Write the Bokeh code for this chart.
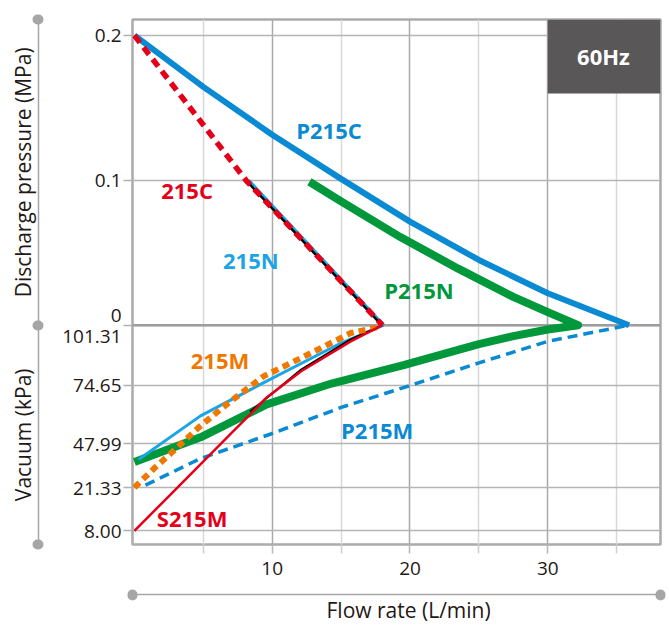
import numpy as np
from bokeh.plotting import figure
from bokeh.models import FixedTicker, Label, BoxAnnotation, Span, Range1d, LinearAxis
from bokeh.embed import file_html
from bokeh.resources import INLINE

# ---------------- axis definitions ----------------
X_TICKS = [10, 20, 30]
X_MINOR = [5, 15, 25, 35]
P_TICKS = [0.2, 0.1, 0.0]                      # discharge pressure, MPa
P_LABELS = ["0.2", "0.1", "0"]
VAC_TICKS = [101.31, 74.65, 47.99, 21.33, 8.00]  # vacuum, kPa (abs)
VAC_LABELS = ["101.31", "74.65", "47.99", "21.33", "8.00"]
VAC_POS = [0.0, -0.0413, -0.0820, -0.1121, -0.1420]  # axis position of vacuum ticks
X_TITLE = "Flow rate (L/min)"
P_TITLE = "Discharge pressure (MPa)"
V_TITLE = "Vacuum (kPa)"

# ---------------- data: discharge pressure side (L/min, MPa) ----------------
p215c_flow = [0, 5, 10, 15, 20, 25, 30, 35.9]
p215c_pres = [0.2, 0.1645, 0.1315, 0.101, 0.0715, 0.045, 0.022, 0.0]

c215_flow = [0, 8.1, 18.0]
c215_pres = [0.2, 0.1, 0.0]

n215_up_flow = [8.3, 18.1]
n215_up_pres = [0.1, 0.0]

blk_up_flow = [8.1, 17.95]
blk_up_pres = [0.1, 0.0]

p215n_up_flow = [12.7, 15.0, 19.3, 23.5, 27.5, 30.0, 32.2]
p215n_up_pres = [0.099, 0.0854, 0.0608, 0.039, 0.0195, 0.009, 0.0]

# ---------------- data: vacuum side (L/min, kPa) ----------------
p215n_lo_flow = [32.2, 30.0, 27.5, 25.0, 19.6, 14.3, 9.6, 4.8, 0]
p215n_lo_vac = [101.31, 99.4, 96.4, 92.9, 83.6, 75.3, 65.9, 51.0, 36.9]

p215m_flow = [0.8, 4.8, 9.9, 15.0, 19.9, 25.0, 30.0, 35.9]
p215m_vac = [22.8, 39.1, 52.5, 64.5, 74.2, 84.5, 94.1, 101.31]

n215_lo_flow = [0.3, 4.8, 9.6, 15.0, 18.1]
n215_lo_vac = [38.5, 60.7, 76.4, 93.35, 101.31]

m215_flow = [0, 1.4, 2.6, 4.8, 6.7, 9.4, 12.1, 15.7, 17.6]
m215_vac = [21.33, 32.8, 41.9, 56.2, 65.9, 78.6, 86.7, 97.8, 100.3]

blk_lo_flow = [8.4, 12.1, 15.7, 17.98]
blk_lo_vac = [62.6, 81.5, 95.0, 101.31]

s215m_flow = [0, 2.6, 4.9, 7.0, 8.4, 9.6, 12.1, 15.7, 18.0]
s215m_vac = [8.0, 19.1, 36.5, 52.7, 61.4, 69.0, 80.8, 94.1, 101.31]

# colours
BLUE = "#0a8ad2"
CYAN = "#1ca5e6"
RED = "#e5001a"
GREEN = "#00983a"
ORANGE = "#ee7800"
GRAY_BOX = "#595757"
TXT = "#231815"
BR_COL = "#a6a6a6"
FONT = "Open Sans"


def vac(k):
    """vacuum kPa -> position on the shared vertical axis"""
    return np.interp(-np.asarray(k, float), -np.array(VAC_TICKS), VAC_POS)


X_START, X_END = -0.138, 38.18
Y_BOT, Y_TOP = -0.1514, 0.2110
W, H = 666, 626
ML, MR, MT, MB = 132, 6, 19, 78

p = figure(width=W, height=H, output_backend="svg", toolbar_location=None,
           x_range=Range1d(X_START, X_END), y_range=Range1d(Y_BOT, Y_TOP),
           min_border_left=ML, min_border_right=MR, min_border_top=MT,
           min_border_bottom=MB)
p.background_fill_color = "white"
p.border_fill_color = "white"
p.outline_line_color = "#ababab"
p.outline_line_width = 2.5

# x axis
xa = p.xaxis[0]
xa.ticker = FixedTicker(ticks=X_TICKS, minor_ticks=X_MINOR)
xa.axis_line_color = None
xa.major_tick_out = 9
xa.major_tick_in = 0
xa.minor_tick_out = 9
xa.minor_tick_in = 0
xa.major_tick_line_color = "#b8b8b8"
xa.minor_tick_line_color = "#cfcfcf"
xa.major_tick_line_width = 1.5
xa.minor_tick_line_width = 1.5
xa.major_label_text_font = FONT
xa.major_label_text_font_size = "19px"
xa.major_label_text_color = TXT
xa.major_label_standoff = 8
xa.axis_label = " "
xa.axis_label_text_font_size = "1px"
xa.axis_label_standoff = 13

# y axis
y_ticks = P_TICKS + VAC_POS[1:]
overrides = {P_TICKS[0]: P_LABELS[0], P_TICKS[1]: P_LABELS[1],
             0.0: P_LABELS[2] + "\n" + VAC_LABELS[0]}
for pos, lab in zip(VAC_POS[1:], VAC_LABELS[1:]):
    overrides[pos] = lab
ya = p.yaxis[0]
ya.ticker = FixedTicker(ticks=y_ticks, minor_ticks=[])
ya.major_label_overrides = overrides
ya.axis_line_color = None
ya.major_tick_out = 9
ya.major_tick_in = 0
ya.major_tick_line_color = "#b0b0b0"
ya.major_tick_line_width = 1.5
ya.major_label_text_font = FONT
ya.major_label_text_font_size = "19px"
ya.major_label_text_color = TXT
ya.major_label_text_line_height = 0.8
ya.major_label_standoff = 2
ya.axis_label = " "
ya.axis_label_text_font_size = "1px"
ya.axis_label_standoff = 17

# bracket axes (grey line with dots) carrying the axis titles
brk_y = LinearAxis(
    ticker=FixedTicker(ticks=[Y_TOP / 2, Y_BOT / 2], minor_ticks=[Y_BOT, 0.0, Y_TOP]),
    major_label_overrides={Y_TOP / 2: P_TITLE, Y_BOT / 2: V_TITLE},
    major_label_orientation="vertical", major_label_standoff=0,
    major_label_text_font=FONT, major_label_text_font_size="21px",
    major_label_text_color=TXT,
    major_tick_line_color=None, major_tick_in=0, major_tick_out=0,
    minor_tick_line_color=BR_COL, minor_tick_line_width=10,
    minor_tick_line_cap="round", minor_tick_in=0, minor_tick_out=1,
    axis_line_color=BR_COL, axis_line_width=1.5)
p.add_layout(brk_y, "left")

brk_x = LinearAxis(
    ticker=FixedTicker(ticks=[19.9], minor_ticks=[X_START, X_END]),
    major_label_overrides={19.9: X_TITLE}, major_label_standoff=0,
    major_label_text_font=FONT, major_label_text_font_size="21px",
    major_label_text_color=TXT,
    major_tick_line_color=None, major_tick_in=0, major_tick_out=0,
    minor_tick_line_color=BR_COL, minor_tick_line_width=10,
    minor_tick_line_cap="round", minor_tick_in=0, minor_tick_out=1,
    axis_line_color=BR_COL, axis_line_width=1.5)
p.add_layout(brk_x, "below")

# grids
p.xgrid.grid_line_color = "#a9a9a9"
p.xgrid.grid_line_width = 1.5
p.xgrid.minor_grid_line_color = "#d8d8d8"
p.xgrid.minor_grid_line_width = 1.5
p.ygrid.grid_line_color = "#b5b5b5"
p.ygrid.grid_line_width = 1.5
p.add_layout(Span(location=0, dimension="width", line_color="#9d9d9d",
                  line_width=2.5, level="underlay"))

# ---------------- curves ----------------
# P215N (green): pressure part + vacuum part joined at the zero line
g_x = p215n_up_flow + p215n_lo_flow[1:]
g_y = list(p215n_up_pres) + list(vac(p215n_lo_vac[1:]))
p.line(g_x, g_y, line_color=GREEN, line_width=8, line_join="round")

# P215M (blue dashed)
p.line(p215m_flow, vac(p215m_vac), line_color=BLUE, line_width=3.5,
       line_dash="10 6")
# P215C (blue solid)
p.line(p215c_flow, p215c_pres, line_color=BLUE, line_width=6,
       line_join="round")

# 215N (cyan)
p.line(n215_up_flow, n215_up_pres, line_color=CYAN, line_width=3)
p.line(n215_lo_flow, vac(n215_lo_vac), line_color=CYAN, line_width=3)

# black reference line
p.line(blk_up_flow, blk_up_pres, line_color="black", line_width=2.5)
p.line(blk_lo_flow, vac(blk_lo_vac), line_color="black", line_width=2)

# 215M (orange dotted)
p.line(m215_flow, vac(m215_vac), line_color=ORANGE, line_width=6,
       line_dash="7 5")
# 215C (red dashed)
p.line(c215_flow, c215_pres, line_color=RED, line_width=5.5, line_dash="9 6")
# S215M (red thin)
p.line(s215m_flow, vac(s215m_vac), line_color=RED, line_width=2.5)

# ---------------- series labels ----------------
series_labels = [
    ("P215C", 14.12, 0.1346, BLUE),
    ("215C", 3.82, 0.0932, RED),
    ("215N", 8.45, 0.0452, CYAN),
    ("P215N", 20.65, 0.024, GREEN),
]
for t, x, y, c in series_labels:
    p.add_layout(Label(x=x, y=y, text=t, text_color=c, text_font=FONT,
                       text_font_style="bold", text_font_size="22px",
                       text_align="center", text_baseline="middle"))
vac_labels = [
    ("215M", 6.21, 85.97, ORANGE),
    ("P215M", 17.62, 54.36, BLUE),
    ("S215M", 4.19, 11.97, RED),
]
for t, x, k, c in vac_labels:
    p.add_layout(Label(x=x, y=float(vac(k)), text=t, text_color=c,
                       text_font=FONT, text_font_style="bold",
                       text_font_size="22px", text_align="center",
                       text_baseline="middle"))

# 60Hz box
p.add_layout(BoxAnnotation(left=30.0, right=X_END, bottom=0.160, top=Y_TOP,
                           fill_color=GRAY_BOX, fill_alpha=1.0,
                           line_color=None))
p.add_layout(Label(x=34.04, y=0.1856, text="60Hz", text_color="white",
                   text_font=FONT, text_font_style="bold",
                   text_font_size="22px", text_align="center",
                   text_baseline="middle"))

open("out.html", "w").write(file_html(p, INLINE))
